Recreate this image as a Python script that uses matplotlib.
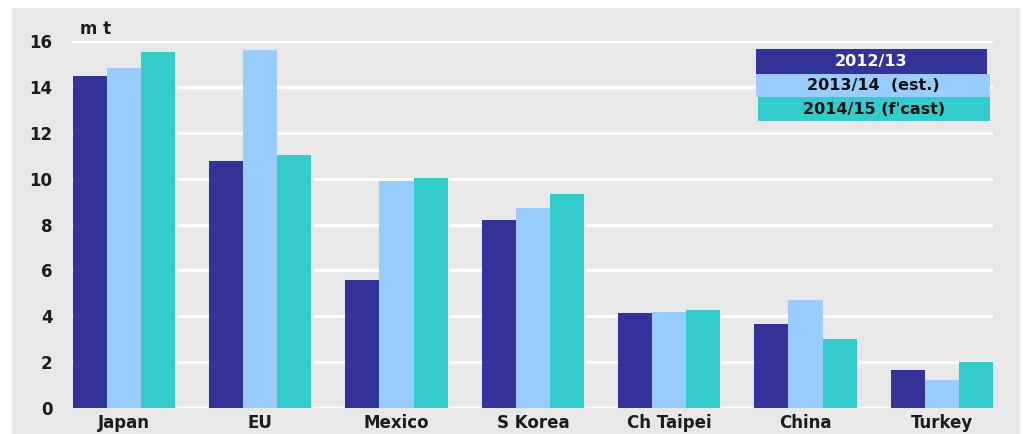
import matplotlib.pyplot as plt
import numpy as np
from matplotlib.patches import Rectangle

plt.rcParams["font.family"] = ["DejaVu Sans"]

CATEGORIES = ["Japan", "EU", "Mexico", "S Korea", "Ch Taipei", "China", "Turkey"]
SERIES = ["2012/13", "2013/14  (est.)", "2014/15 (f'cast)"]
V_2012 = [14.47, 10.77, 5.58, 8.20, 4.14, 3.66, 1.66]
V_2013 = [14.82, 15.60, 9.90, 8.72, 4.18, 4.71, 1.22]
V_2014 = [15.52, 11.03, 10.03, 9.33, 4.27, 3.01, 2.00]
Y_TICKS = [0, 2, 4, 6, 8, 10, 12, 14, 16]
UNIT = "m t"

COLORS = ["#333399", "#99CCFF", "#33CCCC"]
TEXT_COLORS = ["white", "#111111", "#111111"]
BG = "#E8E8E8"
INK = "#1c1c1c"

W, H = 1023, 434
fig = plt.figure(figsize=(W / 100, H / 100), dpi=100)
fig.patch.set_facecolor("white")


def fx(px):
    return px / W


def fy(py):
    return 1 - py / H


# grey panel behind everything
fig.patches.append(Rectangle((fx(12), 0), fx(1020) - fx(12), fy(8),
                             transform=fig.transFigure, facecolor=BG,
                             edgecolor="none", zorder=-5))

ax = fig.add_axes([fx(72), fy(408), fx(993) - fx(72), fy(41) - fy(408)])
ax.set_facecolor("none")

x = np.arange(len(CATEGORIES))
width = 0.25
for i, vals in enumerate([V_2012, V_2013, V_2014]):
    ax.bar(x + (i - 1) * width, vals, width, color=COLORS[i], zorder=3,
           clip_on=False)

ax.set_xlim(-0.38, len(CATEGORIES) - 1 + 0.375)
ax.set_ylim(0, 16)
ax.set_yticks(Y_TICKS)
ax.set_yticklabels([str(t) for t in Y_TICKS], fontsize=12, fontweight="bold",
                   color=INK)
ax.set_xticks(x)
ax.set_xticklabels(CATEGORIES, fontsize=12, fontweight="bold", color=INK)
ax.tick_params(length=0, axis="y", pad=14)
ax.tick_params(length=0, axis="x", pad=4)
for s in ax.spines.values():
    s.set_visible(False)
ax.grid(axis="y", color="white", linewidth=2.4, zorder=1)
ax.set_axisbelow(True)

fig.text(fx(80), fy(29), UNIT, fontsize=12, fontweight="bold",
         color=INK, va="center", ha="left")

# stacked colour-box legend
boxes = [(756, 49, 987, 74), (756, 74, 990, 97), (758, 97, 990, 121)]
for (x0, y0, x1, y1), lab, c, tc in zip(boxes, SERIES, COLORS, TEXT_COLORS):
    fig.patches.append(Rectangle((fx(x0), fy(y1)), fx(x1) - fx(x0), fy(y0) - fy(y1),
                                 transform=fig.transFigure, facecolor=c,
                                 edgecolor="none", zorder=5))
    fig.text(fx((x0 + x1) / 2), fy((y0 + y1) / 2), lab, fontsize=11.5,
             fontweight="bold", color=tc, ha="center", va="center", zorder=6)

fig.savefig("out.png", dpi=100)
